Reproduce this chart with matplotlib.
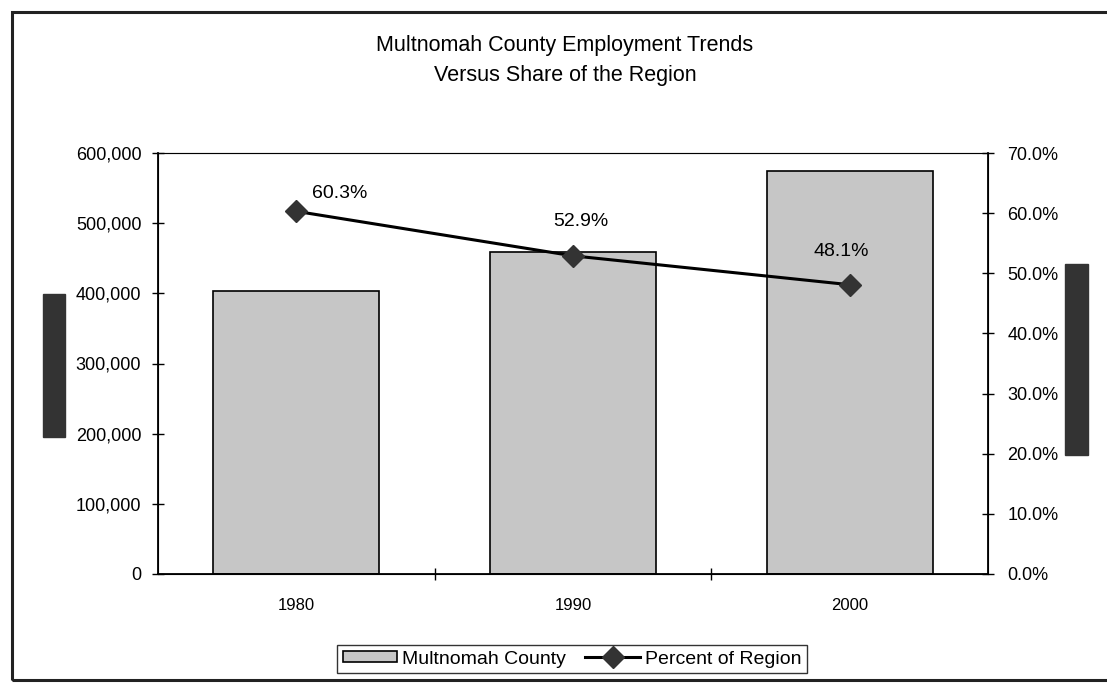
# Multnomah County employment vs share of region - combo bar/line chart
import matplotlib.pyplot as plt
from matplotlib.patches import Rectangle
from matplotlib.ticker import FuncFormatter, MultipleLocator
import numpy as np

plt.rcParams['font.family'] = ['Liberation Sans', 'DejaVu Sans']

# data
years = ['1980', '1990', '2000']
employment = [403000, 459000, 575000]
pct_region = [60.3, 52.9, 48.1]
pct_labels = ['60.3%', '52.9%', '48.1%']
label_offsets = [(43, 18), (8, 34), (-8, 33)]  # pixels from marker

fig = plt.figure(figsize=(11.07, 6.84), dpi=100)

# outer frame of the scanned page
fig.patches.append(Rectangle((12 / 1107, 4 / 684), 1.1, 668 / 684, transform=fig.transFigure,
                             fill=False, edgecolor='#222222', linewidth=2.2))
# dark tabs at the page sides
fig.patches.append(Rectangle((43 / 1107, 1 - 437 / 684), 22 / 1107, 143 / 684,
                             transform=fig.transFigure, color='#333333'))
fig.patches.append(Rectangle((1065 / 1107, 1 - 455 / 684), 23 / 1107, 191 / 684,
                             transform=fig.transFigure, color='#333333'))

ax = fig.add_axes([158 / 1107, 1 - 574 / 684, 830 / 1107, 421 / 684])
x = np.arange(len(years))
ax.bar(x, employment, width=0.6, color='#c6c6c6', edgecolor='black', linewidth=1.2,
       label='Multnomah County', zorder=2)
ax.set_xlim(-0.5, 2.5)
ax.set_ylim(0, 600000)
ax.yaxis.set_major_locator(MultipleLocator(100000))
ax.yaxis.set_major_formatter(FuncFormatter(lambda v, p: f'{int(v):,}'))
ax.set_xticks(x)
ax.set_xticklabels(years)
ax.set_xticks([0.5, 1.5], minor=True)
ax.tick_params(axis='x', which='major', length=0, pad=17, labelsize=12)
ax.tick_params(axis='x', which='minor', length=8, direction='inout', width=1)
ax.tick_params(axis='y', length=8, direction='inout', width=1, labelsize=13, pad=8)
for s in ['left', 'bottom', 'right']:
    ax.spines[s].set_linewidth(1.3)
ax.spines['top'].set_color('#777777')

ax2 = ax.twinx()
ax2.set_ylim(0, 70)
ax2.yaxis.set_major_locator(MultipleLocator(10))
ax2.yaxis.set_major_formatter(FuncFormatter(lambda v, p: f'{v:.1f}%'))
ax2.tick_params(axis='y', length=8, direction='inout', width=1, labelsize=13, pad=10)
ax2.plot(x, pct_region, color='black', linewidth=2.2, marker='D', markersize=11,
         markerfacecolor='#333333', markeredgecolor='#333333', label='Percent of Region')
for xi, yi, lab, off in zip(x, pct_region, pct_labels, label_offsets):
    ax2.annotate(lab, (xi, yi), xytext=off, textcoords='offset pixels',
                 ha='center', va='center', fontsize=14)

fig.text(565 / 1107, 1 - 45 / 684, 'Multnomah County Employment Trends', ha='center', va='center', fontsize=15.5)
fig.text(565 / 1107, 1 - 75 / 684, 'Versus Share of the Region', ha='center', va='center', fontsize=15.5)

h1, l1 = ax.get_legend_handles_labels()
h2, l2 = ax2.get_legend_handles_labels()
fig.legend(h1 + h2, l1 + l2, loc='center', bbox_to_anchor=(572 / 1107, 1 - 659 / 684), ncol=2,
           frameon=True, fancybox=False, edgecolor='black', fontsize=14,
           handlelength=2.8, handleheight=0.5, columnspacing=1.0, handletextpad=0.25,
           borderpad=0.3, borderaxespad=0)

fig.savefig('out.png', dpi=100)
